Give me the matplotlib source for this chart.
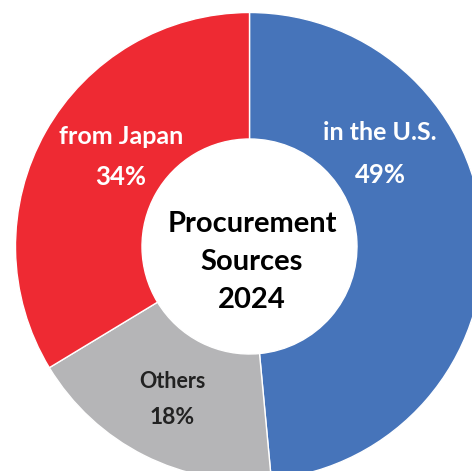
import matplotlib
matplotlib.use("Agg")
import matplotlib.pyplot as plt

# data
sources = ["in the U.S.", "Others", "from Japan"]
shares = [49, 18, 34]
title_lines = ["Procurement", "Sources", "2024"]

# styling / layout (pixel coords, y measured from top of image)
colors = ["#4674BA", "#B5B5B7", "#EE2A33"]
text_colors = ["white", "#222222", "white"]
label_xy = [(380, 133, 175), (172, 381, 417), (121, 136, 177)]
name_size = [18, 15.5, 18]
pct_size = [18.5, 16.5, 18.5]
W, H = 472, 471
cx, cy, R, r_in = 249.5, 246.5, 234, 107.5

plt.rcParams["font.family"] = ["Lato", "DejaVu Sans"]
fig = plt.figure(figsize=(W / 100, H / 100), dpi=100)
ax = fig.add_axes([0, 0, 1, 1])

ax.pie(shares, colors=colors, startangle=90, counterclock=False,
       center=(cx, H - cy), radius=R,
       wedgeprops=dict(width=R - r_in, edgecolor="white", linewidth=1.0),
       frame=True)
ax.set_xlim(0, W); ax.set_ylim(0, H); ax.set_aspect("equal"); ax.axis("off")

for name, val, (lx, ly1, ly2), tc, fs1, fs2 in zip(sources, shares, label_xy, text_colors,
                                                    name_size, pct_size):
    ax.text(lx, H - ly1, name, ha="center", va="center", color=tc, fontsize=fs1, fontweight="bold")
    ax.text(lx, H - ly2, f"{val}%", ha="center", va="center", color=tc, fontsize=fs2, fontweight="bold")

for i, line in enumerate(title_lines):
    ax.text(252, H - (224 + 38 * i), line, ha="center", va="center", color="black",
            fontsize=21, fontweight="bold")

fig.savefig("out.png", dpi=100, facecolor="white")
